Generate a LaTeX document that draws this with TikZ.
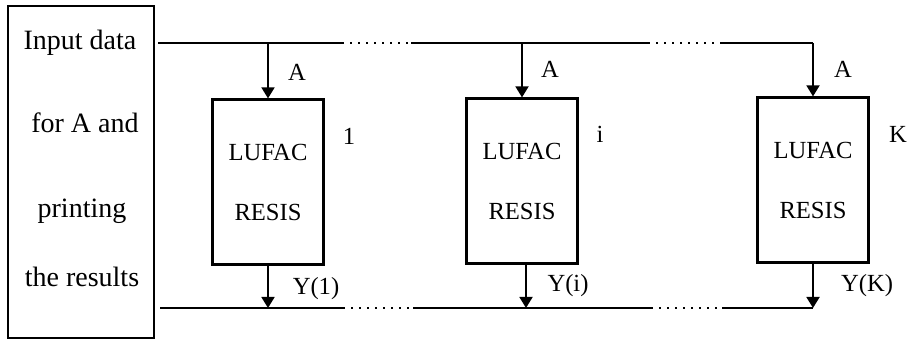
\documentclass[tikz,border=0pt]{standalone}
\usepackage{fontspec}
\setmainfont{Liberation Serif}
\usetikzlibrary{arrows.meta,positioning}

\begin{document}
\begin{tikzpicture}[x=0.5pt, y=-0.5pt,
  bus/.style={line width=1.2pt},
  gap/.style={line width=1pt, dash pattern=on 1pt off 3pt},
  hostbox/.style={draw, line width=1.1pt, minimum width=73pt, minimum height=166pt, inner sep=0pt},
  hosttext/.style={font=\fontsize{14}{16}\selectfont, inner sep=0pt, anchor=base},
  solver/.style={draw, line width=1.1pt, minimum width=55.5pt, minimum height=82.5pt,
    align=center, font=\fontsize{12.3}{30}\selectfont, inner sep=0pt},
  feed/.style={-{Triangle[width=6.5pt,length=5.5pt]}, line width=0.9pt},
  tag/.style={font=\fontsize{12.3}{14}\selectfont, inner sep=0pt, anchor=base}]
\useasboundingbox (0,0) rectangle (909,340);
% host program
\node[hostbox] (host) at (81,172) {};
\node[hosttext] (in1) at (80,50) {Input data};
\node[hosttext] (in2) at (85,133) {for A and};
\node[hosttext] (in3) at (82,218) {printing};
\node[hosttext] (in4) at (82,287) {the results};
% solver blocks
\node[solver] (s1) at (268,182) {LUFAC\\RESIS};
\node[solver] (si) at (522,181) {LUFAC\\RESIS};
\node[solver] (sk) at (813,180) {LUFAC\\RESIS};
% bus ends and breaks
\coordinate (t0) at (158,43);
\coordinate (t1) at (342,43);
\coordinate (t2) at (411,43);
\coordinate (t3) at (648,43);
\coordinate (t4) at (720,43);
\coordinate (b0) at (160,308);
\coordinate (b1) at (343,308);
\coordinate (b2) at (413,308);
\coordinate (b3) at (651,308);
\coordinate (b4) at (722,308);
% input bus
\draw[bus] (t0) -- (t1);
\draw[gap] (t1) -- (t2);
\draw[bus] (t2) -- (t3);
\draw[gap] (t3) -- (t4);
\draw[bus] (t4) -- (t4 -| sk.north);
\draw[feed] (t4 -| sk.north) -- (sk.north);
\draw[feed] (t0 -| s1.north) -- (s1.north);
\draw[feed] (t2 -| si.north) -- (si.north);
% output bus
\draw[bus] (b0) -- (b1);
\draw[gap] (b1) -- (b2);
\draw[bus] (b2) -- (b3);
\draw[gap] (b3) -- (b4);
\draw[bus] (b4) -- (b4 -| sk.south);
\draw[feed] (s1.south) -- (s1.south |- b0);
\draw[feed] ([xshift=2pt]si.south) -- ([xshift=2pt]si.south |- b0);
\draw[feed] (sk.south) -- (sk.south |- b0);
% labels
\node[tag] (a1) at (297,81) {A};
\node[tag] (ai) at (550,78) {A};
\node[tag] (ak) at (843,78) {A};
\node[tag] (n1) at (349,145) {1};
\node[tag] (ni) at (600,143) {i};
\node[tag] (nk) at (898,143) {K};
\node[tag] (y1) at (316,295) {Y(1)};
\node[tag] (yi) at (568,292) {Y(i)};
\node[tag] (yk) at (867,292) {Y(K)};
\end{tikzpicture}
\end{document}
